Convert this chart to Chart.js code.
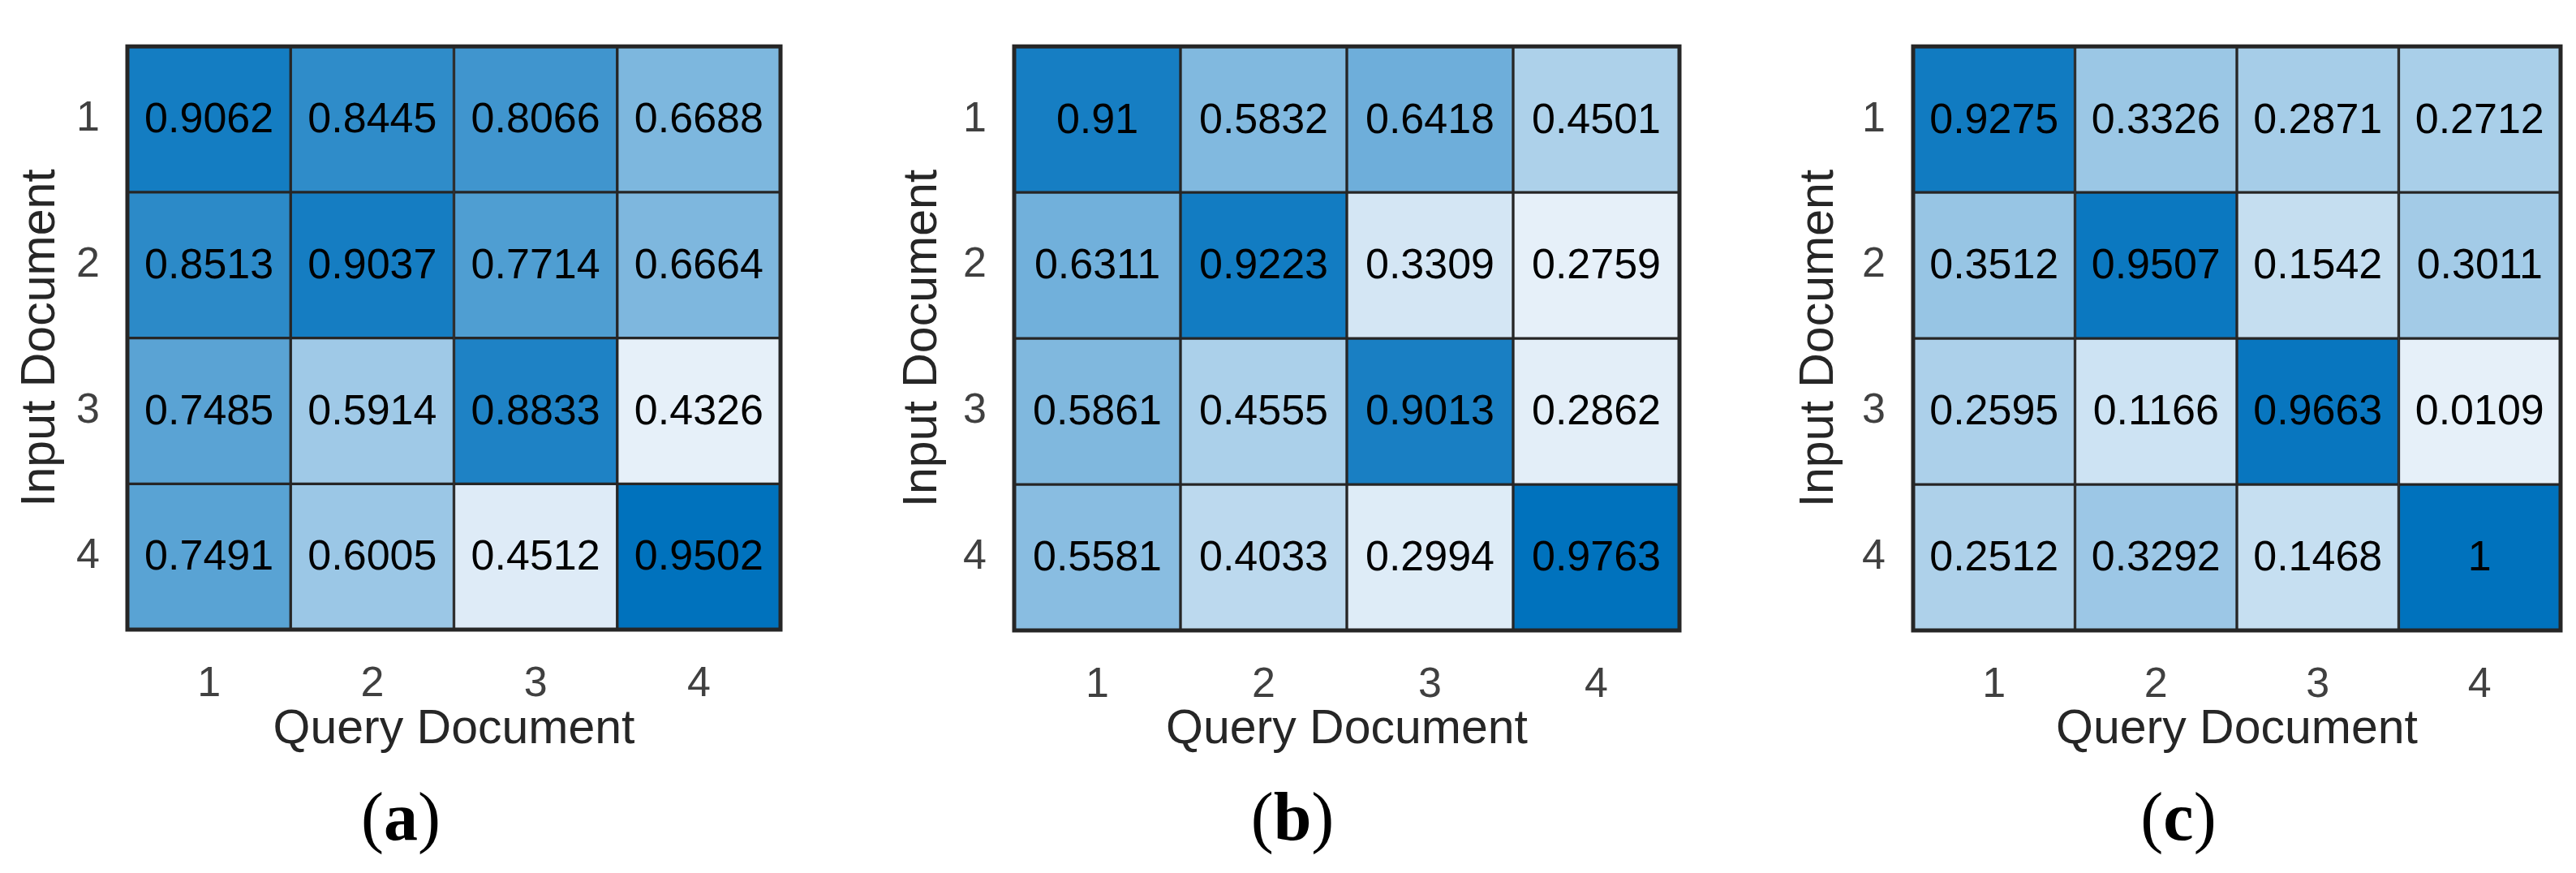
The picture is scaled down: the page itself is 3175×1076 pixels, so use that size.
<!DOCTYPE html>
<html>
<head>
<meta charset="utf-8">
<script src="https://cdn.jsdelivr.net/npm/chart.js@4.4.0/dist/chart.umd.min.js"></script>
<style>
html, body { margin: 0; padding: 0; background: #fff; }
body { width: 3175px; height: 1076px; position: relative; overflow: hidden; }
.panel { position: absolute; top: 0; height: 960px; }
.tag { position: absolute; top: 965px; font-family: "Liberation Serif", "Times New Roman", serif; font-size: 84px; line-height: 84px; color: #000; transform: translateX(-50%); white-space: nowrap; }
</style>
</head>
<body>
<div class="panel" style="left:0px;width:1000px"><canvas id="chart_a"></canvas></div>
<div class="panel" style="left:1000px;width:1100px"><canvas id="chart_b"></canvas></div>
<div class="panel" style="left:2100px;width:1075px"><canvas id="chart_c"></canvas></div>
<div class="tag" style="left:494px">(<b>a</b>)</div>
<div class="tag" style="left:1593px">(<b>b</b>)</div>
<div class="tag" style="left:2685px">(<b>c</b>)</div>
<script>
// labels of both axes
var queryDocs = ['1', '2', '3', '4']
var inputDocs = ['1', '2', '3', '4']

// similarity matrices, one row per input document
var simA = [
	[0.9062, 0.8445, 0.8066, 0.6688],
	[0.8513, 0.9037, 0.7714, 0.6664],
	[0.7485, 0.5914, 0.8833, 0.4326],
	[0.7491, 0.6005, 0.4512, 0.9502]
]
var simB = [
	[0.91, 0.5832, 0.6418, 0.4501],
	[0.6311, 0.9223, 0.3309, 0.2759],
	[0.5861, 0.4555, 0.9013, 0.2862],
	[0.5581, 0.4033, 0.2994, 0.9763]
]
var simC = [
	[0.9275, 0.3326, 0.2871, 0.2712],
	[0.3512, 0.9507, 0.1542, 0.3011],
	[0.2595, 0.1166, 0.9663, 0.0109],
	[0.2512, 0.3292, 0.1468, 1]
]

var xTitle = 'Query Document'
var yTitle = 'Input Document'

var lowColor = [230, 240, 249]
var highColor = [0, 114, 189]
var sans = '"Liberation Sans", Arial, Helvetica, sans-serif'

function cellColor(v, lo, hi){
	var t = (v - lo) / (hi - lo)
	var c = lowColor.map(function(l, k){ return Math.round(l + (highColor[k] - l) * t) })
	return 'rgb(' + c.join(',') + ')'
}

var cellText = {
	id: 'cellText',
	afterDatasetsDraw: function(chart){
		var ctx = chart.ctx
		ctx.save()
		ctx.font = '52px ' + sans
		ctx.fillStyle = '#000'
		ctx.textAlign = 'center'
		ctx.textBaseline = 'middle'
		chart.data.datasets.forEach(function(ds, i){
			chart.getDatasetMeta(i).data.forEach(function(bar, j){
				var p = bar.getCenterPoint()
				ctx.fillText(String(ds.values[j]), p.x, p.y + 2)
			})
		})
		ctx.restore()
	}
}

var frame = {
	id: 'frame',
	afterDraw: function(chart){
		var a = chart.chartArea
		var ctx = chart.ctx
		ctx.save()
		ctx.strokeStyle = '#262626'
		ctx.lineWidth = 5
		ctx.strokeRect(a.left, a.top, a.right - a.left, a.bottom - a.top)
		ctx.restore()
	}
}

function startheat(id, sim, geo){
	var all = [].concat.apply([], sim)
	var lo = Math.min.apply(null, all)
	var hi = Math.max.apply(null, all)
	var datasets = sim.map(function(row, i){
		return {
			label: inputDocs[i],
			values: row,
			data: row.map(function(){ return [i, i + 1] }),
			backgroundColor: row.map(function(v){ return cellColor(v, lo, hi) }),
			borderColor: '#262626',
			borderWidth: 2,
			borderSkipped: false,
			barPercentage: 1,
			categoryPercentage: 1,
			grouped: false
		}
	})
	var ctx = document.getElementById(id)
	return new Chart(ctx, {
		type: 'bar',
		data: { labels: queryDocs, datasets: datasets },
		plugins: [cellText, frame],
		options: {
			responsive: true,
			maintainAspectRatio: false,
			animation: false,
			layout: { padding: { top: geo.top, right: geo.right, left: 0, bottom: 0 } },
			plugins: { legend: { display: false }, tooltip: { enabled: false } },
			scales: {
				x: {
					type: 'category',
					grid: { display: false },
					border: { display: false },
					ticks: { color: '#404040', padding: 28, font: { family: sans, size: 52 } },
					title: { display: true, text: xTitle, color: '#262626', padding: { top: 0, bottom: 25 }, font: { family: sans, size: 59 } },
					afterFit: function(s){ s.height = geo.xh }
				},
				y: {
					type: 'linear',
					min: 0,
					max: 4,
					reverse: true,
					grid: { display: false },
					border: { display: false },
					afterBuildTicks: function(s){ s.ticks = inputDocs.map(function(l, i){ return { value: i + 0.5 } }) },
					ticks: {
						color: '#404040', padding: 26, font: { family: sans, size: 52 },
						callback: function(v){ return inputDocs[Math.floor(v)] }
					},
					title: { display: true, text: yTitle, color: '#262626', padding: { top: geo.tp, bottom: 0 }, font: { family: sans, size: 59 } },
					afterFit: function(s){ s.width = geo.yw }
				}
			}
		}
	})
}

startheat('chart_a', simA, { top: 28, right: 38, xh: 184, yw: 157, tp: 15 })
startheat('chart_b', simB, { top: 24, right: 30, xh: 183, yw: 250, tp: 102 })
startheat('chart_c', simC, { top: 24, right: 19, xh: 183, yw: 258, tp: 107 })
</script>
</body>
</html>
